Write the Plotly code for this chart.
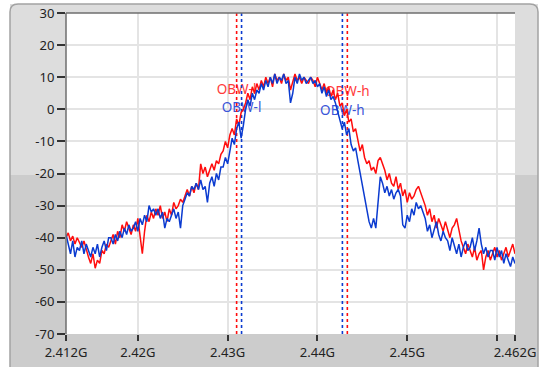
import plotly.graph_objects as go

# ---------------- data ----------------
f_start = 2.412      # GHz
f_step = 0.00025     # GHz
n_points = 201
freq = [round(f_start + i * f_step, 5) for i in range(n_points)]

red_db = [
    -40, -38.5, -41, -39.5, -42, -40, -41.5, -43, -41, -44,
    -46, -48, -45, -49.5, -47, -48, -44, -45, -42, -43,
    -41, -39, -42, -38, -40, -36, -38, -35, -37, -39,
    -36, -38, -34, -40, -45, -38, -33, -35, -32, -34,
    -31, -33, -30, -34, -32, -35, -31, -33, -29, -31,
    -30, -28, -29, -27, -25, -27, -24, -26, -23, -25,
    -17, -20, -18, -21, -19, -17, -19, -16, -17, -14,
    -13, -10, -12, -8, -6, -8, -3, -5, -1, 0,
    2, 5, 3, 7, 5, 8, 6, 9, 7, 10,
    8, 10, 7, 11, 9, 10, 8, 11, 9, 10,
    6, 9, 11, 9, 10, 8, 10, 9, 8, 10,
    9, 7, 10, 8, 6, 8, 5, 7, 4, 6,
    3, 5, 1, 2, -2, 0, -4, -3, -7, -6,
    -10, -13, -11, -15, -17, -16, -19, -18, -20, -16,
    -15, -17, -19, -22, -20, -23, -24, -21, -25, -23,
    -27, -25, -29, -26, -28, -27, -25, -24, -26, -28,
    -30, -33, -31, -35, -33, -37, -34, -36, -38, -35,
    -38, -40, -37, -36, -34, -38, -41, -43, -45, -42,
    -44, -46, -43, -47, -45, -44, -50, -46, -44, -47,
    -45, -43, -46, -44, -47, -45, -43, -46, -44, -42, -45,
]

blue_db = [
    -39, -42, -45, -41, -46, -43, -44, -41, -45, -42,
    -44, -46, -43, -45, -42, -46, -43, -41, -44, -40,
    -40, -42, -39, -41, -38, -40, -37, -39, -36, -38,
    -37, -35, -38, -34, -36, -33, -35, -30, -32, -31,
    -33, -31, -34, -32, -37, -34, -35, -33, -31, -34,
    -32, -37, -30, -28, -26, -27, -24, -25, -23, -25,
    -22, -25, -24, -29, -23, -21, -24, -20, -22, -18,
    -18, -15, -17, -13, -9, -11, -6, -4, -9, -5,
    0, 3, 1, 5, 3, 6, 5, 8, 6, 9,
    7, 10, 8, 11, 8, 10, 9, 11, 8, 9,
    2, 5, 10, 8, 11, 9, 10, 8, 9, 10,
    8, 9, 7, 8, 5, 7, 4, 6, 3, 4,
    2, -1, -3, -6, -4, -8, -6, -11, -13, -12,
    -16, -20, -24, -28, -32, -35, -37, -34, -37, -30,
    -21, -23, -26, -24, -27, -25, -28, -26, -25, -27,
    -36, -37, -33, -35, -31, -33, -29, -31, -30, -32,
    -34, -38, -36, -40, -37, -35, -39, -41, -38, -40,
    -41, -44, -40, -43, -45, -42, -46, -43, -41, -44,
    -43, -40, -44, -41, -37, -42, -45, -43, -46, -44,
    -44, -47, -43, -46, -44, -48, -45, -47, -49, -46, -48,
]

# OBW markers (GHz)
obw_l_red = 2.4310
obw_l_blue = 2.43155
obw_h_blue = 2.44278
obw_h_red = 2.44333

# label positions (dB)
obw_label_y_red_l = 5.9
obw_label_y_blue_l = 0.1
obw_label_y_red_h = 5.2
obw_label_y_blue_h = -0.8

x_tickvals = [2.412, 2.42, 2.43, 2.44, 2.45, 2.46, 2.462]
x_ticktext = ["2.412G", "2.42G", "2.43G", "2.44G", "2.45G", "", "2.462G"]
y_tickvals = [30, 20, 10, 0, -10, -20, -30, -40, -50, -60, -70]
y_ticktext = ["30", "20", "10", "0", "-10", "-20", "-30", "-40", "-50", "-60", "-70"]

RED = "#ff0d0d"
BLUE = "#0b3bd0"
Y_MIN, Y_MAX = -70, 30

fig = go.Figure()

# labels (drawn beneath the traces)
fig.add_trace(go.Scatter(
    x=[obw_l_red, obw_h_red], y=[obw_label_y_red_l, obw_label_y_red_h],
    mode="text", text=["OBW-l", "OBW-h"],
    textfont=dict(color="#ff3a3a", size=13.5, family="Noto Sans"),
    hoverinfo="skip", showlegend=False))
fig.add_trace(go.Scatter(
    x=[obw_l_blue, obw_h_blue], y=[obw_label_y_blue_l, obw_label_y_blue_h],
    mode="text", text=["OBW-l", "OBW-h"],
    textfont=dict(color="#3a55d8", size=13.5, family="Noto Sans"),
    hoverinfo="skip", showlegend=False))

# dashed OBW lines
for xv, col in [(obw_l_red, RED), (obw_h_red, RED), (obw_l_blue, BLUE), (obw_h_blue, BLUE)]:
    fig.add_trace(go.Scatter(
        x=[xv, xv], y=[Y_MIN, Y_MAX], mode="lines",
        line=dict(color=col, width=1.6, dash="3px,3px"),
        hoverinfo="skip", showlegend=False))

# spectra
fig.add_trace(go.Scatter(x=freq, y=red_db, mode="lines",
                         line=dict(color=RED, width=1.5), showlegend=False))
fig.add_trace(go.Scatter(x=freq, y=blue_db, mode="lines",
                         line=dict(color=BLUE, width=1.5), showlegend=False))

# ---------- background panel (paper coords relative to plot area) ----------
L, R, T, B = 66, 515, 13, 334
W, H = R - L, B - T


def px(p):
    return (p - L) / W


def py(p):
    return (B - p) / H


shapes = [
    dict(type="rect", xref="paper", yref="paper", layer="below",
         x0=px(10), x1=px(538), y0=py(175), y1=py(4),
         fillcolor="#dddddd", line=dict(width=0)),
    dict(type="rect", xref="paper", yref="paper", layer="below",
         x0=px(10), x1=px(538), y0=py(380), y1=py(175),
         fillcolor="#cccccc", line=dict(width=0)),
    dict(type="path", xref="paper", yref="paper", layer="below",
         path=(f"M {px(10)},{py(380)} L {px(10)},{py(12)} "
               f"Q {px(10)},{py(4)} {px(18)},{py(4)} "
               f"L {px(530)},{py(4)} Q {px(538)},{py(4)} {px(538)},{py(12)} "
               f"L {px(538)},{py(380)}"),
         line=dict(color="#a2a2a2", width=1.5)),
    dict(type="rect", xref="paper", yref="paper", layer="below",
         x0=0, x1=1, y0=0, y1=1, fillcolor="white", line=dict(width=0)),
    dict(type="line", xref="paper", yref="paper", layer="above",
         x0=0, x1=1, y0=1, y1=1, line=dict(color="#6e6e6e", width=1.5)),
    dict(type="line", xref="paper", yref="paper", layer="above",
         x0=0, x1=0, y0=0, y1=1, line=dict(color="#6e6e6e", width=1.5)),
]

fig.update_layout(
    width=545, height=367,
    margin=dict(l=L, r=545 - R, t=T, b=367 - B, pad=0, autoexpand=False),
    paper_bgcolor="white", plot_bgcolor="white",
    shapes=shapes,
    font=dict(family="Noto Sans", size=13, color="#222222"),
    showlegend=False,
    xaxis=dict(range=[2.412, 2.462], tickvals=x_tickvals, ticktext=x_ticktext,
               showgrid=True, gridcolor="#e4e4e4", gridwidth=1.5,
               ticks="outside", ticklen=6, tickcolor="#333333", tickwidth=1.5,
               showline=False, zeroline=False, fixedrange=True, automargin=False),
    yaxis=dict(range=[Y_MIN, Y_MAX], tickvals=y_tickvals, ticktext=y_ticktext,
               showgrid=True, gridcolor="#e4e4e4", gridwidth=1.5,
               ticks="outside", ticklen=8, tickcolor="#333333", tickwidth=1.5,
               showline=False, zeroline=False, fixedrange=True, automargin=False),
)

fig.write_html("out.html", config={"displayModeBar": False})
